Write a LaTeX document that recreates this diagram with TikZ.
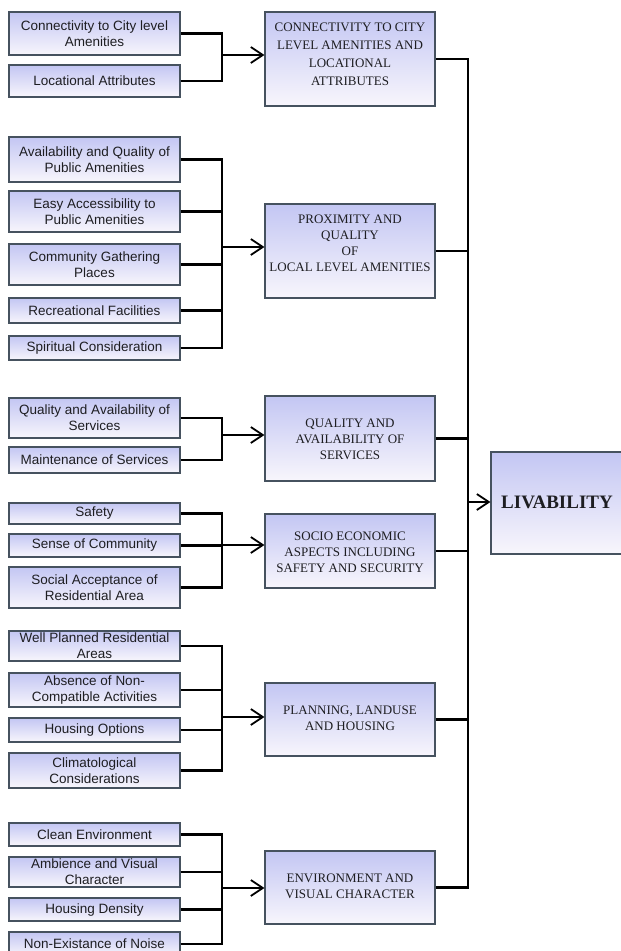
\documentclass[tikz,border=0pt]{standalone}
\usepackage{fontspec}
\setmainfont{Liberation Serif}
\setsansfont{Liberation Sans}
\usetikzlibrary{arrows.meta}
\definecolor{boxtop}{HTML}{C3C6F3}
\definecolor{boxbot}{HTML}{F8F6FC}
\definecolor{boxline}{HTML}{46525F}
\definecolor{txt}{HTML}{1E1E22}
\begin{document}
\begin{tikzpicture}[x=1pt,y=-1pt,
  box/.style={draw=boxline, line width=1.1pt, top color=boxtop, bottom color=boxbot, inner sep=0pt, align=center, text=txt},
  leftbox/.style={box, minimum width=171pt, font=\sffamily\fontsize{13.5}{16}\selectfont},
  midbox/.style={box, minimum width=170pt},
  midtxt/.style={inner sep=0pt, align=center, text=txt, font=\fontsize{13}{16}\selectfont},
  conn/.style={line width=2.4pt, line join=miter, black},
  arr/.style={conn, -{Straight Barb[length=12pt,width=16pt,line width=1.8pt]}}
]
\useasboundingbox (0,0) rectangle (621,951);

% ---- group 1
\node[leftbox, minimum height=43pt] (a1) at (94.5,33.5) {Connectivity to City level\\Amenities};
\node[leftbox, minimum height=32pt] (a2) at (94.5,81) {Locational Attributes};
\node[midbox, minimum height=94pt] (M1) at (350,59) {};
\node[midtxt, font=\fontsize{13}{18}\selectfont] (M1t) at (350,54.5) {CONNECTIVITY TO CITY\\LEVEL AMENITIES AND\\LOCATIONAL\\ATTRIBUTES};
\coordinate (g1) at (222,55);

% ---- group 2
\node[leftbox, minimum height=45pt] (b1) at (94.5,159.5) {Availability and Quality of\\Public Amenities};
\node[leftbox, minimum height=41pt] (b2) at (94.5,211.5) {Easy Accessibility to\\Public Amenities};
\node[leftbox, minimum height=41pt] (b3) at (94.5,264.5) {Community Gathering\\Places};
\node[leftbox, minimum height=25pt] (b4) at (94.5,310.5) {Recreational Facilities};
\node[leftbox, minimum height=24pt] (b5) at (94.5,348) {Spiritual Consideration};
\node[midbox, minimum height=94pt] (M2) at (350,251) {};
\node[midtxt] (M2t) at (350,243) {PROXIMITY AND\\QUALITY\\OF\\LOCAL LEVEL AMENITIES};
\coordinate (g2) at (222,247);

% ---- group 3
\node[leftbox, minimum height=40pt] (c1) at (94.5,418) {Quality and Availability of\\Services};
\node[leftbox, minimum height=26pt] (c2) at (94.5,460) {Maintenance of Services};
\node[midbox, minimum height=85pt] (M3) at (350,438.5) {};
\node[midtxt] (M3t) at (350,439) {QUALITY AND\\AVAILABILITY OF\\SERVICES};
\coordinate (g3) at (222,435);

% ---- group 4
\node[leftbox, minimum height=21pt] (d1) at (94.5,513.5) {Safety};
\node[leftbox, minimum height=23pt] (d2) at (94.5,545.5) {Sense of Community};
\node[leftbox, minimum height=41pt] (d3) at (94.5,587.5) {Social Acceptance of\\Residential Area};
\node[midbox, minimum height=74pt] (M4) at (350,551) {};
\node[midtxt] (M4t) at (350,552.5) {SOCIO ECONOMIC\\ASPECTS INCLUDING\\SAFETY AND SECURITY};
\coordinate (g4) at (222,545);

% ---- group 5
\node[leftbox, minimum height=30pt] (e1) at (94.5,646) {Well Planned Residential\\Areas};
\node[leftbox, minimum height=34pt] (e2) at (94.5,690) {Absence of Non-\\Compatible Activities};
\node[leftbox, minimum height=24pt] (e3) at (94.5,730) {Housing Options};
\node[leftbox, minimum height=35pt] (e4) at (94.5,770.5) {Climatological\\Considerations};
\node[midbox, minimum height=73pt] (M5) at (350,719.5) {};
\node[midtxt] (M5t) at (350,718) {PLANNING, LANDUSE\\AND HOUSING};
\coordinate (g5) at (222,717);

% ---- group 6
\node[leftbox, minimum height=23pt] (f1) at (94.5,834.5) {Clean Environment};
\node[leftbox, minimum height=30pt] (f2) at (94.5,872) {Ambience and Visual\\Character};
\node[leftbox, minimum height=23pt] (f3) at (94.5,909.5) {Housing Density};
\node[leftbox, minimum height=24pt] (f4) at (94.5,944) {Non-Existance of Noise};
\node[midbox, minimum height=73pt] (M6) at (350,887.5) {};
\node[midtxt] (M6t) at (350,886) {ENVIRONMENT AND\\VISUAL CHARACTER};
\coordinate (g6) at (222,888);

% ---- livability
\node[box, minimum width=139pt, minimum height=102pt] (L) at (560.5,503) {};
\node[inner sep=0pt, text=txt, font=\bfseries\fontsize{19}{22}\selectfont] (Lt) at (557,502) {LIVABILITY};
\coordinate (lv) at (468,502);

% ---- connectors
\foreach \n in {a1,a2} \draw[conn] (\n.east) -| (g1);
\foreach \n in {b1,b2,b3,b4,b5} \draw[conn] (\n.east) -| (g2);
\foreach \n in {c1,c2} \draw[conn] (\n.east) -| (g3);
\foreach \n in {d1,d2,d3} \draw[conn] (\n.east) -| (g4);
\foreach \n in {e1,e2,e3,e4} \draw[conn] (\n.east) -| (g5);
\foreach \n in {f1,f2,f3,f4} \draw[conn] (\n.east) -| (g6);
\draw[arr] (g1) -- (M1.west |- g1);
\draw[arr] (g2) -- (M2.west |- g2);
\draw[arr] (g3) -- (M3.west |- g3);
\draw[arr] (g4) -- (M4.west |- g4);
\draw[arr] (g5) -- (M5.west |- g5);
\draw[arr] (g6) -- (M6.west |- g6);
\foreach \n in {M1,M2,M3,M4,M5,M6} \draw[conn] (\n.east) -| (lv);
\draw[arr] (lv) -- (L.west |- lv);
\end{tikzpicture}
\end{document}
